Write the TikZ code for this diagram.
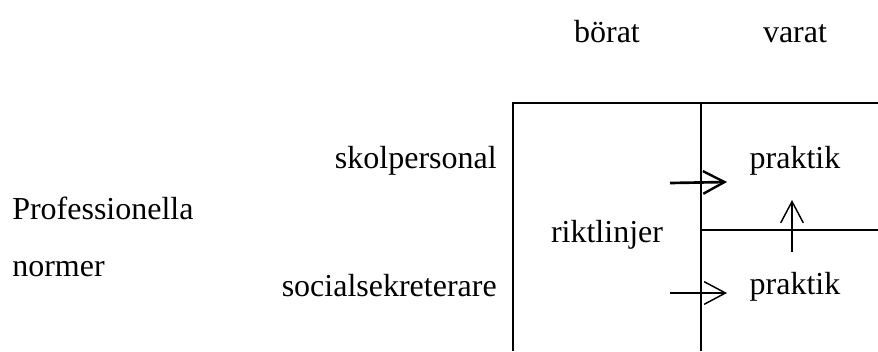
\documentclass[tikz,border=0pt]{standalone}
\usepackage{fontspec}
\setmainfont{Liberation Serif}
\usetikzlibrary{arrows.meta}
\begin{document}
\begin{tikzpicture}[x=0.75pt,y=-0.75pt,
  lbl/.style={font=\fontsize{24}{28}\selectfont, inner sep=0pt},
  frame/.style={line width=1.1pt},
  conn/.style={line width=1pt, -{Straight Barb[length=16pt,width=17pt,line width=1.1pt]}},
  thickconn/.style={line width=2pt, -{Straight Barb[length=16pt,width=17pt,line width=1.8pt]}}]
\useasboundingbox (0,0) rectangle (878,351);
% frame
\draw[frame] (513,351) -- (513,103) -- (878,103);
\draw[frame] (701,103) -- (701,351);
\draw[frame] (701,230) -- (878,230);
% texts
\node[lbl, anchor=base] (borat) at (607,42) {börat};
\node[lbl, anchor=base] (varat) at (795,42) {varat};
\node[lbl, anchor=base east] (skol) at (497,168) {skolpersonal};
\node[lbl, anchor=base west] (prof) at (12,219) {Professionella};
\node[lbl, anchor=base west] (norm) at (12,276) {normer};
\node[lbl, anchor=base east] (soc) at (497,296) {socialsekreterare};
\node[lbl, anchor=base] (rikt) at (607,242) {riktlinjer};
\node[lbl, anchor=base] (prak1) at (795,168) {praktik};
\node[lbl, anchor=base] (prak2) at (795,294) {praktik};
% connectors
\coordinate (a1s) at (670,183);
\coordinate (a1e) at (727,182);
\coordinate (a2s) at (670,293);
\coordinate (a2e) at (727,293);
\coordinate (a3s) at (792,252);
\coordinate (a3e) at (792,200);
\draw[thickconn] (a1s) -- (a1e);
\draw[conn] (a2s) -- (a2e);
\draw[conn] (a3s) -- (a3e);
\end{tikzpicture}
\end{document}
